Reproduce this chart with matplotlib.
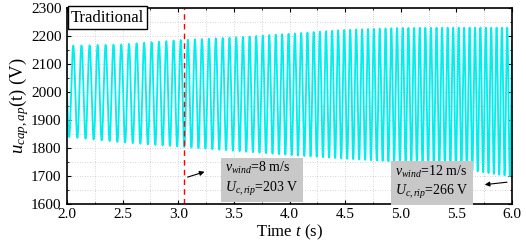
import numpy as np
import matplotlib
matplotlib.use('Agg')
import matplotlib.pyplot as plt
from matplotlib.ticker import MultipleLocator

# envelope of the capacitor voltage
t_knots = [2.0, 2.5, 3.0, 3.5, 4.0, 4.5, 5.0, 5.5, 6.0]
upper = [2165, 2170, 2185, 2195, 2208, 2222, 2229, 2230, 2230]
lower = [1840, 1820, 1805, 1790, 1775, 1762, 1750, 1728, 1698]
# ripple frequency (Hz)
f_t = [2.0, 3.0, 4.0, 5.0, 6.0]
f_hz = [13.3, 15.5, 17.5, 19.5, 21.0]

t_wind = 3.05
box1 = ['$v_{wind}$=8 m/s', '$U_{c,rip}$=203 V']
box2 = ['$v_{wind}$=12 m/s', '$U_{c,rip}$=266 V']

plt.rcParams['font.family'] = ['Liberation Serif', 'DejaVu Serif']
plt.rcParams['mathtext.fontset'] = 'custom'
plt.rcParams['mathtext.rm'] = 'Liberation Serif'
plt.rcParams['mathtext.it'] = 'Liberation Serif:italic'

t = np.linspace(2.0, 6.0, 20000)
up = np.interp(t, t_knots, upper)
lo = np.interp(t, t_knots, lower)
f = np.interp(t, f_t, f_hz)
phase = 2 * np.pi * np.cumsum(f) * (t[1] - t[0])
u = (up + lo) / 2 + (up - lo) / 2 * np.sin(phase + np.pi)

fig = plt.figure(figsize=(5.26, 2.43), dpi=100)
ax = fig.add_axes([0.1274, 0.1605, 0.846, 0.8065])
ax.plot(t, u, color='#00eeee', lw=1.3)
ax.axvline(t_wind, color='red', ls=(0, (4, 3)), lw=1.0)

ax.set_xlim(2.0, 6.0)
ax.set_ylim(1600, 2300)
ax.xaxis.set_major_locator(MultipleLocator(0.5))
ax.xaxis.set_minor_locator(MultipleLocator(0.25))
ax.yaxis.set_major_locator(MultipleLocator(100))
ax.yaxis.set_minor_locator(MultipleLocator(50))
ax.xaxis.set_major_formatter(plt.FormatStrFormatter('%.1f'))
ax.tick_params(which='both', direction='in', top=True, right=True, labelsize=11)
ax.tick_params(axis='x', pad=3)
ax.tick_params(axis='y', pad=4)
ax.tick_params(which='major', length=3)
ax.tick_params(which='minor', length=1.5)
ax.grid(which='both', ls=(0, (1, 2)), color='#c8c8c8', lw=0.6)
for s in ax.spines.values():
    s.set_linewidth(1.2)

ax.set_xlabel('Time $t$ (s)', fontsize=12, labelpad=1)
ax.set_ylabel('$u_{cap,ap}$(t) (V)', fontsize=13.5, labelpad=0)

ax.text(2.035, 2266, 'Traditional', fontsize=12, va='center', ha='left',
        bbox=dict(boxstyle='square,pad=0.2', fc='white', ec='black', lw=1.0))

ax.text(3.42, 1690, '\n'.join(box1), fontsize=10, va='center', ha='left',
        linespacing=1.3, bbox=dict(boxstyle='square,pad=0.3', fc='#c8c8c8', ec='none'))
ax.text(4.95, 1677, '\n'.join(box2), fontsize=10, va='center', ha='left',
        linespacing=1.3, bbox=dict(boxstyle='square,pad=0.3', fc='#c8c8c8', ec='none'))

ax.annotate('', xy=(3.26, 1718), xytext=(3.06, 1693),
            arrowprops=dict(arrowstyle='-|>', color='black', lw=0.8, mutation_scale=7))
ax.annotate('', xy=(5.73, 1668), xytext=(5.98, 1679),
            arrowprops=dict(arrowstyle='-|>', color='black', lw=0.8, mutation_scale=7))

fig.savefig('out.png', dpi=100)
